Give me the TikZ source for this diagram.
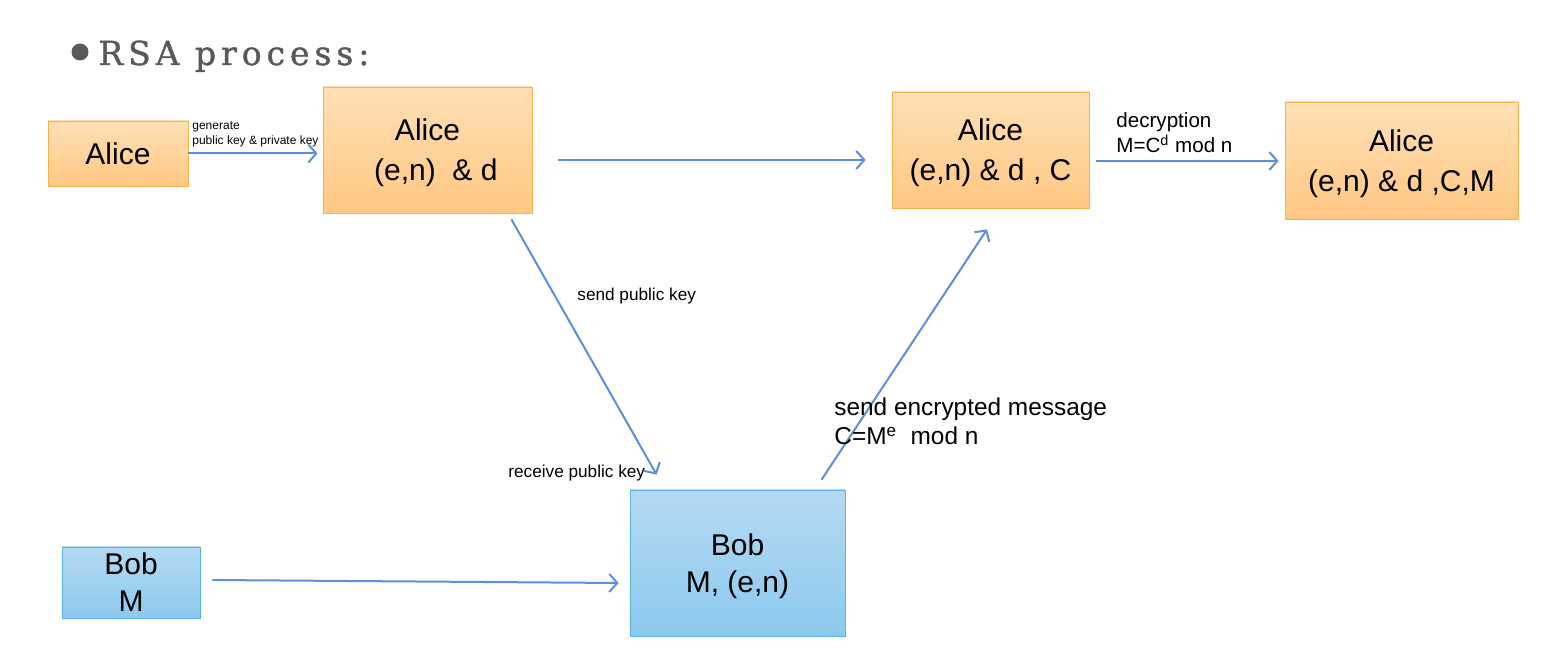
\documentclass[tikz,border=0pt]{standalone}
\usepackage{fontspec}
\setmainfont{Liberation Sans}
\newfontfamily\titlefont[LetterSpace=15, FakeBold=1.2]{DejaVu Serif}
\usetikzlibrary{arrows.meta, positioning, calc}

\definecolor{linkblue}{RGB}{91,142,222}
\definecolor{alicetop}{RGB}{255,224,182}
\definecolor{alicebot}{RGB}{255,199,130}
\definecolor{aliceline}{RGB}{247,178,76}
\definecolor{bobtop}{RGB}{180,218,242}
\definecolor{bobbot}{RGB}{140,201,238}
\definecolor{bobline}{RGB}{91,179,229}
\definecolor{titlegray}{RGB}{89,89,89}

\begin{document}
\begin{tikzpicture}[
		x=0.5pt, y=-0.5pt,
		alice/.style={draw=aliceline, top color=alicetop, bottom color=alicebot,
			align=center, inner sep=0pt, text depth=0pt, font=\fontsize{15}{20}\selectfont},
		bob/.style={draw=bobline, top color=bobtop, bottom color=bobbot,
			align=center, inner sep=0pt, text depth=0pt, font=\fontsize{15}{18.5}\selectfont},
		link/.style={draw=linkblue, line width=1pt, -{Straight Barb[length=4pt,width=9pt]}},
		note/.style={anchor=base west, align=left, inner sep=0pt}
	]
	\useasboundingbox (0,0) rectangle (1563,667);

	% title
	\node[circle, fill=titlegray, minimum size=8.5pt, inner sep=0pt] (bullet) at (80,52) {};
	\node[anchor=base west, inner sep=0pt, text=titlegray,
		font=\titlefont\fontsize{16.5}{17}\selectfont] (title) at (98,65) {RSA process:};

	% Alice side
	\node[alice, minimum width=70pt, minimum height=32.5pt] (alice) at (118,153.5) {Alice};
	\node[alice, minimum width=104.5pt, minimum height=63pt] (alicekeys) at (427.5,150) {Alice\\ \ \ (e,n)~~\& d};
	\node[alice, minimum width=98.5pt, minimum height=58pt] (alicecipher) at (990.5,150) {Alice\\(e,n) \& d , C};
	\node[alice, minimum width=116.5pt, minimum height=58.5pt] (aliceplain) at (1401.5,160.5) {Alice\\(e,n) \& d ,C,M};

	% Bob side
	\node[bob, minimum width=69pt, minimum height=35.5pt] (bob) at (131,582.5) {Bob\\M};
	\node[bob, minimum width=107.5pt, minimum height=73pt] (bobkey) at (737.5,563) {Bob\\M, (e,n)};

	% connectors
	\draw[link, shorten >=2.5pt] (alice.east) -- (alice.east -| alicekeys.west);
	\draw[link, shorten <=13pt, shorten >=13pt] ([yshift=-5pt]alicekeys.east) -- ([yshift=-5pt]alicekeys.east -| alicecipher.west);
	\draw[link, shorten <=3.5pt, shorten >=3pt] ([yshift=-5.5pt]alicecipher.east) -- ([yshift=-5.5pt]alicecipher.east -| aliceplain.west);
	\draw[link] ([shift={(-21,6)}]alicekeys.south east) -- ([shift={(27,-15)}]bobkey.north west);
	\draw[link] ([shift={(192,-10)}]bobkey.north west) -- ([shift={(-3.5,21)}]alicecipher.south);
	\draw[link] ([shift={(12,-2.5)}]bob.east) -- ([shift={(-11,20)}]bobkey.west);

	% labels
	\node[note, font=\fontsize{6}{7.5}\selectfont] (generate) at (192,145) {generate\\public key \& private key};
	\node[note, font=\fontsize{8.6}{10}\selectfont] (sendkey) at (577,300.5) {send public key};
	\node[note, font=\fontsize{8.6}{10}\selectfont] (receivekey) at (508,477.5) {receive public key};
	\node[note, font=\fontsize{12.2}{14.5}\selectfont] (encrypt) at (834,445) {send encrypted message\\C=M\textsuperscript{e}~ mod n};
	\node[note, font=\fontsize{10.3}{12.5}\selectfont] (decrypt) at (1116,153) {decryption\\M=C\textsuperscript{d} mod n};
\end{tikzpicture}
\end{document}
